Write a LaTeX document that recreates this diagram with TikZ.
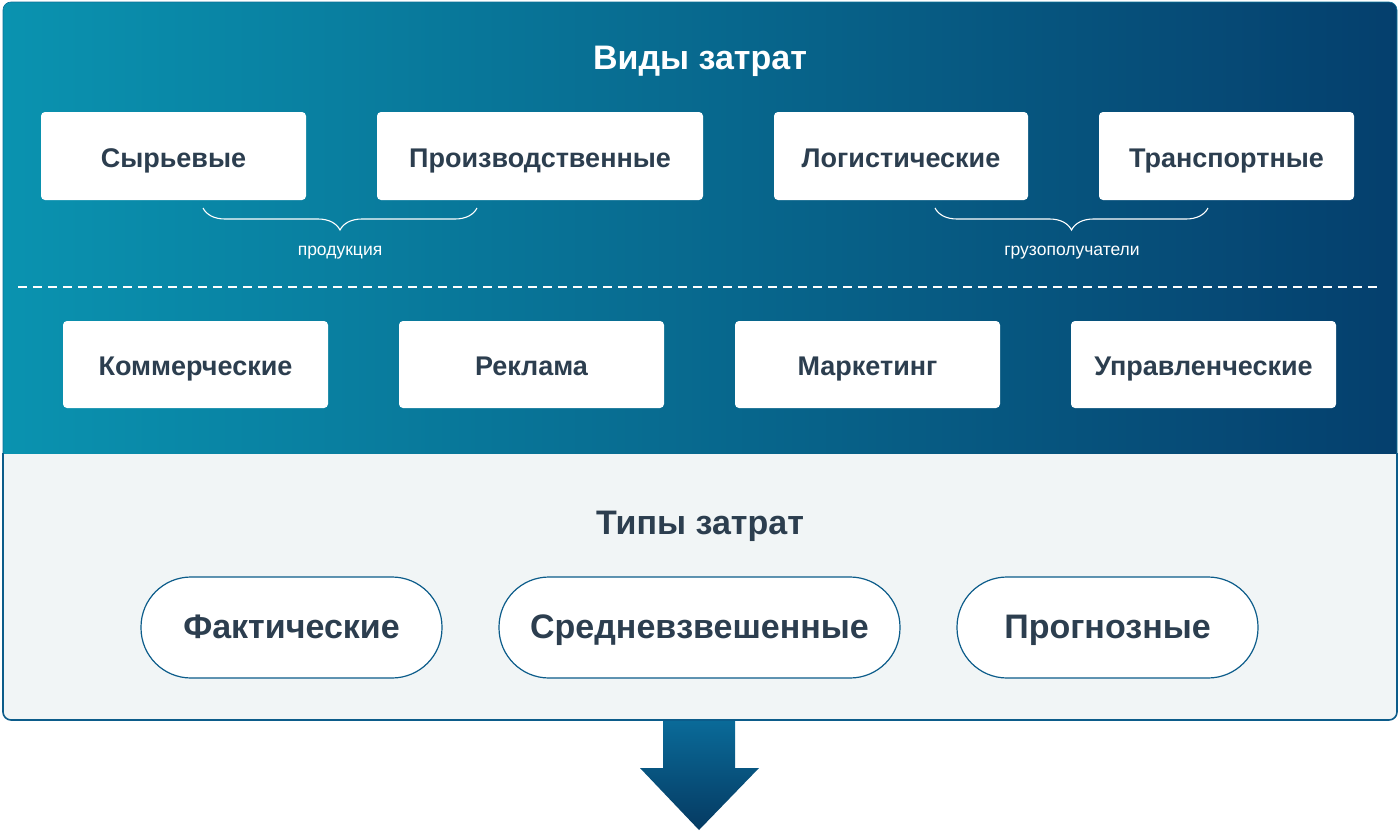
\documentclass[tikz,border=0pt]{standalone}
\usepackage{fontspec}
\setmainfont{Liberation Sans}
\usetikzlibrary{decorations.pathreplacing}
\definecolor{tealL}{HTML}{0A93B0}
\definecolor{navyR}{HTML}{053F6D}
\definecolor{frameC}{HTML}{0C5C8A}
\definecolor{lightBg}{HTML}{F1F5F6}
\definecolor{txt}{HTML}{2C3E4F}
\definecolor{arrTop}{HTML}{0A6A98}
\definecolor{arrBot}{HTML}{053A62}
\tikzset{
  card/.style={fill=white, rounded corners=4pt, minimum height=88pt, inner sep=0pt,
    text=txt, font=\bfseries\fontsize{27}{32}\selectfont, text height=22.5pt, text depth=0pt},
  pill/.style={fill=white, draw=frameC, line width=1.2pt, rounded corners=50pt,
    minimum height=101pt, inner sep=0pt, text=txt, font=\bfseries\fontsize{34}{40}\selectfont,
    text height=21pt, text depth=0pt},
  heading/.style={font=\bfseries\fontsize{34}{40}\selectfont, inner sep=0pt, text height=24.4pt, text depth=0pt},
  bracelbl/.style={text=white, font=\fontsize{17.5}{21}\selectfont, inner sep=0pt, text height=9pt, text depth=0pt},
  bracestyle/.style={draw=white, line width=1.1pt, decorate,
    decoration={brace, mirror, amplitude=22pt}},
}
\begin{document}
\begin{tikzpicture}[x=1pt,y=-1pt]
\useasboundingbox (0,0) rectangle (1400,835);
% frame background
\begin{scope}
  \clip[rounded corners=8pt] (3,2) rectangle (1397,720);
  \fill[lightBg] (0,0) rectangle (1400,720);
  \shade[left color=tealL, right color=navyR] (0,0) rectangle (1400,453);
\end{scope}
\draw[frameC, line width=1.6pt, rounded corners=8pt] (3,453) -- (3,720) -- (1397,720) -- (1397,453);
\draw[frameC!60!tealL, line width=0.6pt, rounded corners=8pt] (3,453) -- (3,2) -- (1397,2) -- (1397,453);
% arrow
\shade[top color=arrTop, bottom color=arrBot] (663,721) -- (735,721) -- (735,768) -- (759,768) -- (699,830) -- (640,768) -- (663,768) -- cycle;
% titles
\node[heading, text=white] (t1) at (700,57.5) {Виды затрат};
\node[heading, text=txt] (t2) at (700,522) {Типы затрат};
% row 1
\node[card, minimum width=265pt] (a1) at (173.5,156) {Сырьевые};
\node[card, minimum width=326pt] (a2) at (540,156) {Производственные};
\node[card, minimum width=254pt] (a3) at (901,156) {Логистические};
\node[card, minimum width=255pt] (a4) at (1226.5,156) {Транспортные};
% braces
\coordinate (b1s) at (203,208);
\coordinate (b1e) at (477,208);
\coordinate (b2s) at (935,208);
\coordinate (b2e) at (1208,208);
\draw[bracestyle] (b1s) -- (b1e);
\draw[bracestyle] (b2s) -- (b2e);
\node[bracelbl] (l1) at (340,251) {продукция};
\node[bracelbl] (l2) at (1072,251) {грузополучатели};
% dashed separator
\coordinate (d1) at (18,287);
\coordinate (d2) at (1382,287);
\draw[white, line width=1.3pt, dash pattern=on 9pt off 6pt] (d1) -- (d2);
% row 2
\node[card, minimum width=265pt, minimum height=87pt] (c1) at (195.5,364.5) {Коммерческие};
\node[card, minimum width=265pt, minimum height=87pt] (c2) at (531.5,364.5) {Реклама};
\node[card, minimum width=265pt, minimum height=87pt] (c3) at (867.5,364.5) {Маркетинг};
\node[card, minimum width=265pt, minimum height=87pt] (c4) at (1203.5,364.5) {Управленческие};
% pills
\node[pill, minimum width=301pt] (p1) at (291.5,627.5) {Фактические};
\node[pill, minimum width=401pt] (p2) at (699.5,627.5) {Средневзвешенные};
\node[pill, minimum width=301pt] (p3) at (1107.5,627.5) {Прогнозные};
\end{tikzpicture}
\end{document}
